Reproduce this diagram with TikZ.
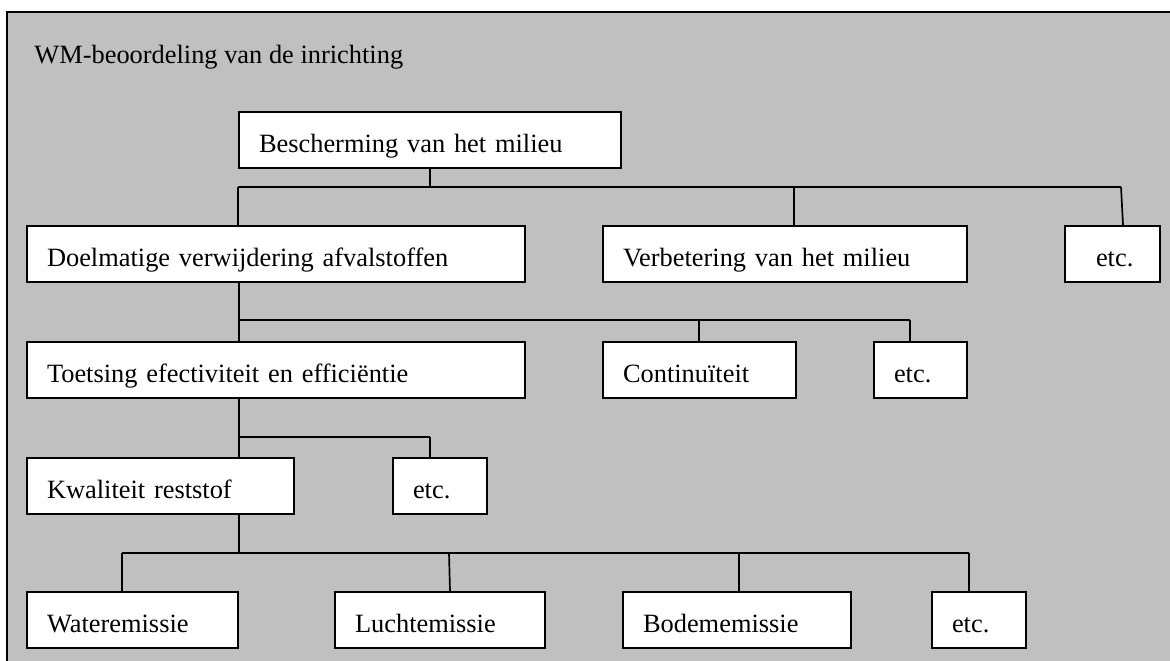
\documentclass[tikz,border=0pt]{standalone}
\usepackage{fontspec}
\setmainfont{Liberation Serif}
\usepackage{tikz}
\usetikzlibrary{calc}
\definecolor{wmgray}{HTML}{C0C0C0}
\tikzset{
  wmbox/.style={draw,fill=white,line width=1pt,anchor=north west,minimum height=28pt,inner xsep=10pt,inner ysep=0pt,text height=12.5pt,text depth=0pt,align=left,font=\fontsize{13.2}{16}\selectfont},
  wmline/.style={line width=0.85pt}
}
\begin{document}
\begin{tikzpicture}[x=0.5pt,y=-0.5pt]
\useasboundingbox (0,0) rectangle (1170,660);
\fill[wmgray](7,12) rectangle (1172,662);
\draw[line width=0.75pt](7,662)--(7,12)--(1172,12);
\node (title) at (34,63) [anchor=base west,inner sep=0pt,font=\fontsize{13.2}{16}\selectfont]{WM-beoordeling van de inrichting};
\node (besch) at (238,111) [wmbox,text width=171pt]{Bescherming van het milieu};
\node (doel) at (26,225) [wmbox,text width=229pt]{Doelmatige verwijdering afvalstoffen};
\node (verb) at (602,225) [wmbox,text width=162pt]{Verbetering van het milieu};
\node (etcA) at (1064,225) [wmbox,inner xsep=15.5pt,text width=16.5pt]{etc.};
\node (toets) at (26,341) [wmbox,text width=229pt]{Toetsing efectiviteit en efficiëntie};
\node (cont) at (602,341) [wmbox,text width=76.5pt]{Continuïteit};
\node (etcB) at (873,341) [wmbox,text width=26.5pt]{etc.};
\node (kwal) at (26,457) [wmbox,text width=113.5pt]{Kwaliteit reststof};
\node (etcC) at (392,457) [wmbox,text width=27pt]{etc.};
\node (water) at (26,591) [wmbox,text width=85.5pt]{Wateremissie};
\node (lucht) at (334,591) [wmbox,text width=85pt]{Luchtemissie};
\node (bodem) at (622,591) [wmbox,text width=94pt]{Bodememissie};
\node (etcD) at (931,591) [wmbox,text width=27pt]{etc.};
\coordinate (a0) at (238,187);
\coordinate (a1) at (794,187);
\coordinate (a2) at (1121,187);
\coordinate (b0) at (239,320);
\coordinate (b1) at (699,320);
\coordinate (b2) at (910,320);
\coordinate (c0) at (239,437);
\coordinate (c1) at (430,437);
\coordinate (d0) at (239,553);
\coordinate (d1) at (122,553);
\coordinate (d2) at (449,553);
\coordinate (d3) at (739,553);
\coordinate (d4) at (969,553);
\draw[wmline](besch.south)--(besch.south |- a0);
\draw[wmline](a0)--(a2);
\draw[wmline](a0)--(a0 |- doel.north);
\draw[wmline](a1)--(a1 |- verb.north);
\draw[wmline](a2)--([xshift=1pt]a2 |- etcA.north);
\draw[wmline](b0 |- doel.south)--(b0)--(b2);
\draw[wmline](b0)--(b0 |- toets.north);
\draw[wmline](b1)--(b1 |- cont.north);
\draw[wmline](b2)--(b2 |- etcB.north);
\draw[wmline](c0 |- toets.south)--(c0)--(c1);
\draw[wmline](c0)--(c0 |- kwal.north);
\draw[wmline](c1)--(c1 |- etcC.north);
\draw[wmline](d0 |- kwal.south)--(d0);
\draw[wmline](d1)--(d4);
\draw[wmline](d1)--(d1 |- water.north);
\draw[wmline](d2)--([xshift=0.5pt]d2 |- lucht.north);
\draw[wmline](d3)--(d3 |- bodem.north);
\draw[wmline](d4)--(d4 |- etcD.north);
\end{tikzpicture}
\end{document}
